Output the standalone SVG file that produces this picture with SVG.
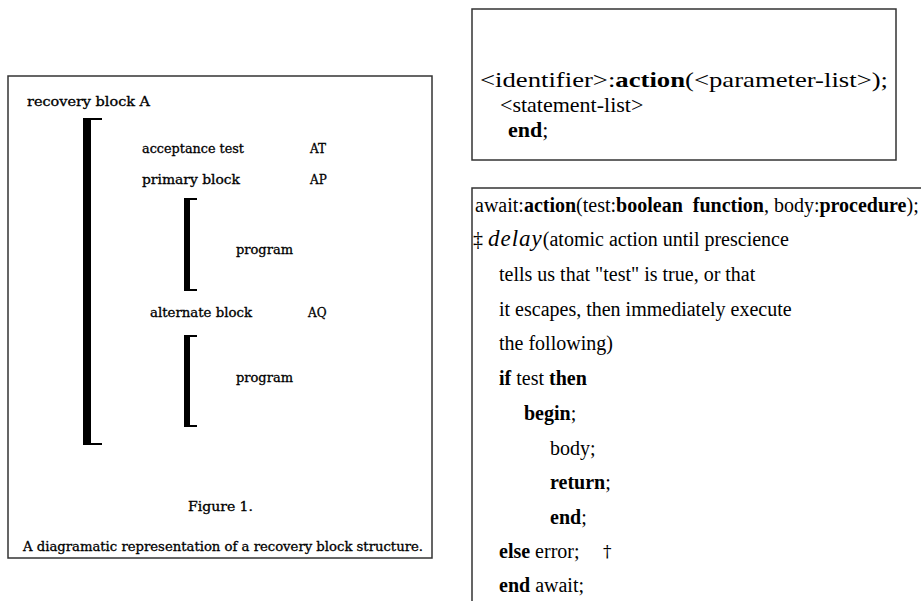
<svg xmlns="http://www.w3.org/2000/svg" width="921" height="601" viewBox="0 0 921 601">
<style>
.box{fill:none;stroke:#333;stroke-width:1.5}
.l{font-family:"DejaVu Serif","Liberation Serif",serif;font-size:12px;fill:#000;stroke:#000;stroke-width:0.3}
.r{font-family:"Liberation Serif","Times New Roman",serif;font-size:20px;fill:#000}
.t{font-size:22px}
.b{font-weight:bold}
.i{font-style:italic}
.br{fill:#000}
.dg{font-family:"DejaVu Serif",serif;font-size:17px;fill:#000}
</style>
<rect width="921" height="601" fill="#fff"/>
<g id="figure1">
  <rect class="box" x="8" y="76" width="424" height="482"/>
  <text class="l" x="27" y="106" textLength="123" lengthAdjust="spacingAndGlyphs">recovery block A</text>
  <path class="br" d="M83,118 H102 V120 H91 V443 H102 V445 H83 Z"/>
  <text class="l" x="142" y="153" textLength="102" lengthAdjust="spacingAndGlyphs">acceptance test</text>
  <text class="l" x="310" y="153">AT</text>
  <text class="l" x="142" y="184" textLength="98" lengthAdjust="spacingAndGlyphs">primary block</text>
  <text class="l" x="310" y="184">AP</text>
  <path class="br" d="M184,198 H197 V200 H190 V289 H197 V291 H184 Z"/>
  <text class="l" x="236" y="254" textLength="57" lengthAdjust="spacingAndGlyphs">program</text>
  <text class="l" x="150" y="317" textLength="102" lengthAdjust="spacingAndGlyphs">alternate block</text>
  <text class="l" x="308" y="317">AQ</text>
  <path class="br" d="M184,335 H197 V337 H190 V425 H197 V427 H184 Z"/>
  <text class="l" x="236" y="382" textLength="57" lengthAdjust="spacingAndGlyphs">program</text>
  <text class="l" x="188" y="511" textLength="65" lengthAdjust="spacingAndGlyphs">Figure 1.</text>
  <text class="l" x="23" y="551" textLength="400" lengthAdjust="spacingAndGlyphs">A diagramatic representation of a recovery block structure.</text>
</g>
<g id="action-syntax">
  <rect class="box" x="472" y="9" width="424" height="151"/>
  <text class="r t" x="480" y="87" textLength="408" lengthAdjust="spacingAndGlyphs">&lt;identifier&gt;:<tspan class="b">action</tspan>(&lt;parameter-list&gt;);</text>
  <text class="r t" x="500" y="112">&lt;statement-list&gt;</text>
  <text class="r t" x="508" y="137"><tspan class="b">end</tspan>;</text>
</g>
<g id="await-def">
  <path class="box" d="M472,602 V188 H922"/>
  <text class="r" x="475" y="212"><tspan>await:</tspan><tspan class="b">action</tspan><tspan>(test:</tspan><tspan class="b" xml:space="preserve">boolean  function</tspan><tspan>, body:</tspan><tspan class="b">procedure</tspan><tspan>);</tspan></text>
  <text class="r" x="473" y="246">‡ <tspan class="i" font-size="23" letter-spacing="1">delay</tspan>(atomic action until prescience</text>
  <text class="r" x="499" y="281">tells us that "test" is true, or that</text>
  <text class="r" x="499" y="316">it escapes, then immediately execute</text>
  <text class="r" x="499" y="350">the following)</text>
  <text class="r" x="499" y="385"><tspan class="b">if</tspan> test <tspan class="b">then</tspan></text>
  <text class="r" x="524" y="420"><tspan class="b">begin</tspan>;</text>
  <text class="r" x="550" y="455">body;</text>
  <text class="r" x="550" y="489"><tspan class="b">return</tspan>;</text>
  <text class="r" x="550" y="524"><tspan class="b">end</tspan>;</text>
  <text class="r" x="499" y="558"><tspan class="b">else</tspan> error;</text>
  <text class="dg" x="603" y="557">†</text>
  <text class="r" x="499" y="592"><tspan class="b">end</tspan> await;</text>
</g>
</svg>
